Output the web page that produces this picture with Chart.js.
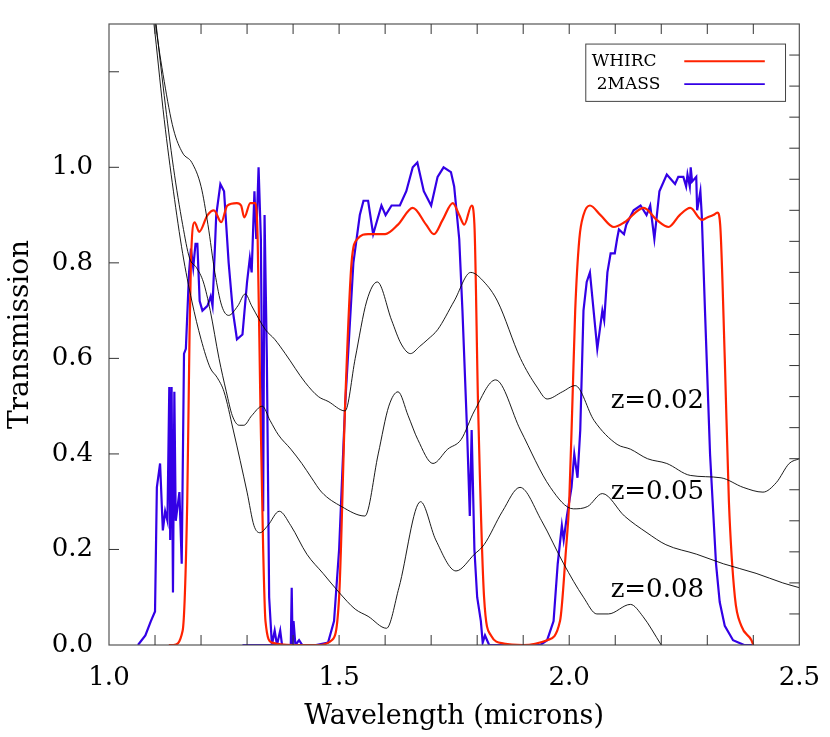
<!DOCTYPE html>
<html><head><meta charset="utf-8">
<script src="https://cdn.jsdelivr.net/npm/chart.js@4"></script>
<style>body{margin:0;background:#fff}canvas{display:block}</style>
</head><body>
<canvas id="c" width="830" height="737"></canvas>
<script>
const xTickLabels = ['1.0','1.5','2.0','2.5'];
const yTickLabels = ['0.0','0.2','0.4','0.6','0.8','1.0'];
const legendNames = ['WHIRC','2MASS'];
const zLabels = ['z=0.02','z=0.05','z=0.08'];
const zLabelPos = [[2.09,0.51],[2.09,0.32],[2.09,0.115]];

const whirc = [[1.13,0],[1.14,0],[1.16,0.03],[1.17,0.3],[1.175,0.65],[1.178,0.8],[1.186,0.885],[1.196,0.865],[1.214,0.9],[1.228,0.91],[1.244,0.885],[1.257,0.92],[1.278,0.925],[1.287,0.92],[1.294,0.895],[1.307,0.925],[1.318,0.925],[1.323,0.85],[1.329,0.5],[1.335,0.2],[1.34,0.05],[1.354,0.005],[1.4,0],[1.455,0],[1.484,0.01],[1.5,0.1],[1.513,0.5],[1.527,0.8],[1.54,0.85],[1.563,0.86],[1.6,0.86],[1.628,0.88],[1.66,0.915],[1.689,0.88],[1.706,0.86],[1.725,0.89],[1.747,0.925],[1.761,0.9],[1.772,0.88],[1.788,0.92],[1.794,0.88],[1.802,0.5],[1.815,0.1],[1.83,0.02],[1.858,0.003],[1.9,0],[1.952,0.01],[1.98,0.05],[1.993,0.2],[2.0,0.3],[2.007,0.51],[2.013,0.7],[2.022,0.85],[2.031,0.9],[2.045,0.92],[2.068,0.9],[2.097,0.875],[2.12,0.885],[2.162,0.915],[2.19,0.89],[2.216,0.875],[2.24,0.9],[2.263,0.915],[2.288,0.89],[2.3,0.895],[2.313,0.9],[2.322,0.905],[2.328,0.88],[2.338,0.6],[2.347,0.3],[2.36,0.1],[2.374,0.04],[2.396,0.01],[2.4,0]];

const massJ = [[1.063,0],[1.079,0.02],[1.091,0.05],[1.1,0.07],[1.104,0.33],[1.111,0.38],[1.117,0.24],[1.122,0.28],[1.127,0.26],[1.131,0.54],[1.133,0.22],[1.136,0.54],[1.139,0.11],[1.142,0.53],[1.145,0.26],[1.153,0.32],[1.158,0.17],[1.163,0.61],[1.167,0.62],[1.174,0.78],[1.178,0.83],[1.183,0.79],[1.188,0.84],[1.192,0.84],[1.197,0.72],[1.203,0.7],[1.214,0.71],[1.221,0.73],[1.225,0.71],[1.233,0.9],[1.242,0.965],[1.25,0.95],[1.26,0.8],[1.269,0.7],[1.278,0.64],[1.29,0.65],[1.3,0.76],[1.306,0.81],[1.31,0.78],[1.316,0.95],[1.32,0.85],[1.325,1.0],[1.33,0.85],[1.335,0.28],[1.338,0.9],[1.343,0.6],[1.348,0.1],[1.354,0],[1.36,0.03],[1.365,0],[1.372,0.03],[1.376,0],[1.395,0],[1.397,0.12],[1.399,0],[1.401,0.05],[1.405,0],[1.413,0.01],[1.42,0]];

const massHK = [[1.29,0],[1.45,0],[1.476,0.005],[1.489,0.05],[1.5,0.2],[1.513,0.5],[1.531,0.8],[1.545,0.9],[1.553,0.93],[1.563,0.93],[1.574,0.86],[1.592,0.92],[1.601,0.9],[1.614,0.92],[1.632,0.92],[1.646,0.95],[1.66,1.0],[1.67,1.01],[1.684,0.95],[1.7,0.92],[1.714,0.98],[1.727,1.0],[1.743,0.99],[1.75,0.96],[1.761,0.85],[1.768,0.7],[1.778,0.45],[1.784,0.27],[1.788,0.45],[1.794,0.2],[1.8,0.1],[1.808,0.05],[1.812,0.005],[1.817,0.02],[1.826,0],[1.937,0],[1.952,0.01],[1.966,0.05],[1.975,0.17],[1.984,0.25],[1.988,0.22],[1.995,0.27],[2.005,0.33],[2.011,0.4],[2.018,0.35],[2.024,0.45],[2.031,0.7],[2.038,0.76],[2.045,0.78],[2.061,0.62],[2.072,0.7],[2.076,0.68],[2.083,0.78],[2.09,0.82],[2.099,0.82],[2.104,0.85],[2.108,0.87],[2.119,0.86],[2.124,0.88],[2.14,0.91],[2.155,0.92],[2.168,0.9],[2.176,0.92],[2.185,0.85],[2.196,0.95],[2.212,0.985],[2.23,0.965],[2.237,0.98],[2.248,0.98],[2.254,0.96],[2.257,0.985],[2.262,0.96],[2.264,1.0],[2.267,0.97],[2.276,0.98],[2.278,0.91],[2.285,0.95],[2.288,0.9],[2.295,0.7],[2.306,0.4],[2.319,0.17],[2.327,0.09],[2.338,0.04],[2.356,0.01],[2.38,0],[2.4,0]];

const galZ02 = [[1.08,1.5],[1.10,1.31],[1.12,1.18],[1.14,1.08],[1.16,1.03],[1.18,1.01],[1.2,0.96],[1.215,0.88],[1.23,0.78],[1.245,0.71],[1.26,0.69],[1.28,0.71],[1.296,0.735],[1.31,0.71],[1.34,0.66],[1.36,0.64],[1.383,0.61],[1.426,0.55],[1.455,0.52],[1.476,0.51],[1.513,0.49],[1.535,0.6],[1.56,0.72],[1.583,0.76],[1.614,0.68],[1.635,0.63],[1.655,0.61],[1.675,0.625],[1.693,0.64],[1.714,0.66],[1.75,0.72],[1.786,0.78],[1.815,0.76],[1.844,0.72],[1.894,0.6],[1.93,0.54],[1.952,0.515],[1.985,0.53],[2.013,0.543],[2.054,0.47],[2.104,0.42],[2.133,0.41],[2.17,0.39],[2.212,0.38],[2.263,0.355],[2.33,0.35],[2.378,0.33],[2.421,0.32],[2.45,0.34],[2.478,0.38],[2.5,0.39]];

const galZ05 = [[1.08,1.5],[1.1,1.32],[1.12,1.15],[1.14,1.0],[1.16,0.88],[1.175,0.81],[1.19,0.79],[1.205,0.76],[1.22,0.7],[1.239,0.6],[1.255,0.53],[1.268,0.48],[1.283,0.46],[1.293,0.46],[1.31,0.48],[1.333,0.5],[1.35,0.47],[1.368,0.44],[1.395,0.41],[1.419,0.38],[1.44,0.35],[1.462,0.32],[1.505,0.29],[1.556,0.27],[1.585,0.4],[1.608,0.5],[1.628,0.53],[1.65,0.48],[1.671,0.43],[1.704,0.38],[1.736,0.41],[1.765,0.43],[1.794,0.49],[1.84,0.555],[1.894,0.45],[1.959,0.33],[2.009,0.285],[2.04,0.29],[2.072,0.317],[2.12,0.27],[2.169,0.235],[2.21,0.21],[2.277,0.19],[2.335,0.17],[2.406,0.15],[2.464,0.13],[2.5,0.12]];

const galZ08 = [[1.08,1.45],[1.1,1.28],[1.12,1.1],[1.14,0.95],[1.16,0.82],[1.18,0.72],[1.2,0.64],[1.22,0.58],[1.235,0.56],[1.25,0.53],[1.27,0.45],[1.3,0.32],[1.315,0.25],[1.328,0.235],[1.345,0.25],[1.37,0.28],[1.395,0.25],[1.43,0.19],[1.465,0.15],[1.5,0.11],[1.535,0.075],[1.563,0.06],[1.603,0.035],[1.63,0.12],[1.677,0.3],[1.71,0.22],[1.754,0.155],[1.794,0.19],[1.815,0.21],[1.855,0.28],[1.893,0.33],[1.94,0.26],[1.988,0.17],[2.031,0.1],[2.06,0.065],[2.085,0.065],[2.133,0.085],[2.16,0.06],[2.2,0.0]];

const FONT = "'DejaVu Serif', serif";
const toXY = a => a.map(p => ({x:p[0], y:p[1]}));
const RED = '#ff2200', BLUE = '#3300e6';

const galDS = (d) => ({data:toXY(d), borderColor:'#000', borderWidth:0.9, pointRadius:0, cubicInterpolationMode:'monotone', fill:false});

const framePlugin = {
  id:'frame',
  afterDatasetsDraw(chart){
    const {ctx, chartArea:a, scales:{x,y}} = chart;
    ctx.save();
    ctx.strokeStyle='#555'; ctx.lineWidth=1.2;
    ctx.strokeRect(a.left, a.top, a.right-a.left, a.bottom-a.top);
    ctx.strokeStyle='#333'; ctx.lineWidth=1;
    ctx.beginPath();
    for (let i=1;i<15;i++){ const px=x.getPixelForValue(1+i*0.1);
      ctx.moveTo(px,a.bottom); ctx.lineTo(px,a.bottom-10);
      ctx.moveTo(px,a.top); ctx.lineTo(px,a.top+10); }
    for (let i=1;i<=6;i++){ const py=y.getPixelForValue(i*0.2);
      if (py<a.top) continue;
      ctx.moveTo(a.left,py); ctx.lineTo(a.left+10,py); }
    for (let i=1;i<20;i++){ const py=y.getPixelForValue(i*0.065);
      ctx.moveTo(a.right,py); ctx.lineTo(a.right-10,py); }
    ctx.stroke();
    // legend
    const l=x.getPixelForValue(2.036), r=x.getPixelForValue(2.47), t=y.getPixelForValue(1.258), b=y.getPixelForValue(1.138);
    ctx.fillStyle='#fff'; ctx.fillRect(l,t,r-l,b-t);
    ctx.strokeStyle='#444'; ctx.lineWidth=1; ctx.strokeRect(l,t,r-l,b-t);
    ctx.font = "17px "+FONT; ctx.fillStyle='#000'; ctx.textBaseline='middle';
    const rows=[[legendNames[0],1.222,RED,0],[legendNames[1],1.174,BLUE,5]];
    rows.forEach(([txt,v,c,off])=>{ const py=y.getPixelForValue(v);
      ctx.textAlign='left'; ctx.fillText(txt,l+6+off,py);
      ctx.strokeStyle=c; ctx.lineWidth=1.8; ctx.beginPath();
      ctx.moveTo(x.getPixelForValue(2.25),py); ctx.lineTo(x.getPixelForValue(2.425),py); ctx.stroke(); });
    // z labels
    ctx.font = "26px "+FONT; ctx.textAlign='left';
    zLabels.forEach((s,i)=> ctx.fillText(s, x.getPixelForValue(zLabelPos[i][0]), y.getPixelForValue(zLabelPos[i][1])));
    ctx.restore();
  }
};

new Chart(document.getElementById('c'), {
  type:'line',
  data:{datasets:[
    galDS(galZ02), galDS(galZ05), galDS(galZ08),
    {data:toXY(whirc), borderColor:RED, borderWidth:2.2, pointRadius:0, cubicInterpolationMode:'monotone'},
    {data:toXY(massJ), borderColor:BLUE, borderWidth:2.2, pointRadius:0, tension:0},
    {data:toXY(massHK), borderColor:BLUE, borderWidth:2.2, pointRadius:0, tension:0}
  ]},
  options:{
    responsive:false, animation:false,
    layout:{padding:{top:24,right:27,left:0,bottom:0}},
    plugins:{legend:{display:false}, tooltip:{enabled:false}},
    scales:{
      x:{type:'linear', min:1.0, max:2.5,
        afterFit(s){ s.height=92; },
        grid:{display:false}, border:{display:false},
        ticks:{stepSize:0.5, maxRotation:0, padding:10, color:'#000', font:{family:FONT,size:26},
          callback:(v)=>{ const i=Math.round((v-1)/0.5); return Math.abs(v-1-i*0.5)<1e-6 ? xTickLabels[i] : ''; }},
        title:{display:true, text:'Wavelength (microns)', color:'#000', font:{family:FONT,size:27}, padding:{top:0}}
      },
      y:{type:'linear', min:0, max:1.3,
        afterFit(s){ s.width=109; },
        grid:{display:false}, border:{display:false},
        ticks:{stepSize:0.2, padding:8, color:'#000', font:{family:FONT,size:26},
          callback:(v)=>{ const i=Math.round(v/0.2); return (i<yTickLabels.length && Math.abs(v-i*0.2)<1e-6) ? yTickLabels[i] : ''; }},
        title:{display:true, text:'Transmission', color:'#000', font:{family:FONT,size:28}, padding:{bottom:2}}
      }
    }
  },
  plugins:[framePlugin]
});
</script>
</body></html>
